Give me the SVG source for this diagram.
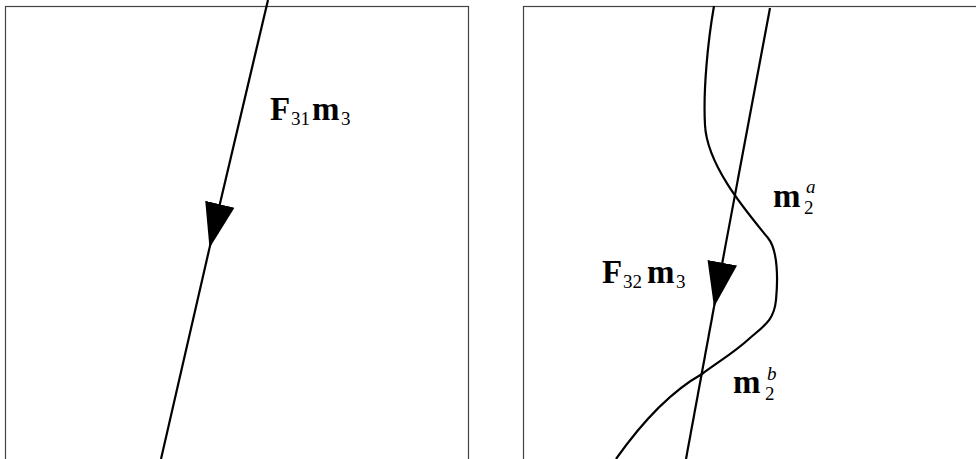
<svg xmlns="http://www.w3.org/2000/svg" width="976" height="459" viewBox="0 0 976 459">
<style>
.box{fill:none;stroke:#444;stroke-width:1.2}
.ln{fill:none;stroke:#000;stroke-width:2.2}
.mb{font-family:"Liberation Serif",serif;font-weight:bold;font-size:33px;fill:#000}
.sb{font-family:"Liberation Serif",serif;font-size:19px;fill:#000}
.si{font-family:"Liberation Serif",serif;font-style:italic;font-size:19px;fill:#000}
</style>
<defs>
<marker id="arr" markerUnits="userSpaceOnUse" markerWidth="50" markerHeight="34" refX="45" refY="17" orient="auto" viewBox="0 0 50 34">
<path d="M0,2 L45,17 L0,32 z" fill="#000"/>
</marker>
</defs>
<g id="panel-left">
<rect class="box" x="5.5" y="6.5" width="463" height="470"/>
</g>
<g id="panel-right">
<rect class="box" x="523.5" y="6.5" width="470" height="470"/>
</g>
<g id="connectors">
<path class="ln" d="M268,0 L209.5,248" marker-end="url(#arr)"/>
<path class="ln" d="M209.5,248 L161,459"/>
<path class="ln" d="M770,8 L714,307" marker-end="url(#arr)"/>
<path class="ln" d="M714,307 L686,459"/>
<path class="ln" d="M714,6 C708,40 703,90 705,125 C707,165 745,210 768,238 C778,250 778,280 776,300 C774,320 765,325 750,338 C735,352 718,362 702,374 C670,392 640,425 616,459"/>
</g>
<g id="label-F31m3">
<text class="mb" x="270" y="120">F</text>
<text class="sb" x="291" y="125">31</text>
<text class="mb" x="312" y="120">m</text>
<text class="sb" x="341" y="125">3</text>
</g>
<g id="label-F32m3">
<text class="mb" x="602" y="283">F</text>
<text class="sb" x="623" y="288">32</text>
<text class="mb" x="647" y="283">m</text>
<text class="sb" x="676" y="288">3</text>
</g>
<g id="label-m2a">
<text class="mb" x="773" y="207">m</text>
<text class="sb" x="804" y="214">2</text>
<text class="si" x="806" y="193">a</text>
</g>
<g id="label-m2b">
<text class="mb" x="733" y="393">m</text>
<text class="sb" x="765" y="400">2</text>
<text class="si" x="767" y="380">b</text>
</g>
</svg>
